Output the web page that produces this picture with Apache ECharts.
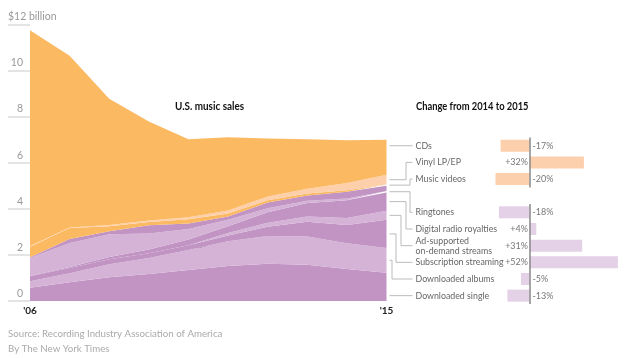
<!DOCTYPE html>
<html>
<head>
<meta charset="utf-8">
<script src="https://cdn.jsdelivr.net/npm/echarts@6/dist/echarts.min.js"></script>
<style>
html,body{margin:0;padding:0;background:#fff;}
#main{width:628px;height:358px;}
</style>
</head>
<body>
<div id="main"></div>
<script>
// ---------------- DATA ----------------
const years = ['2006','2007','2008','2009','2010','2011','2012','2013','2014','2015'];
const xTickLabels = ["'06","","","","","","","","","'15"];

// $ billions, stacked bottom to top
const downloadedSingle      = [0.58,0.81,1.03,1.17,1.34,1.52,1.62,1.57,1.39,1.23];
const downloadedAlbums      = [0.28,0.39,0.56,0.69,0.87,1.07,1.20,1.23,1.11,1.07];
const subscriptionStreaming = [0.21,0.23,0.22,0.21,0.21,0.25,0.40,0.64,0.80,1.22];
const adSupported           = [0,0,0,0,0,0.11,0.17,0.22,0.30,0.39];
const digitalRadio          = [0.03,0.04,0.10,0.16,0.25,0.29,0.46,0.59,0.77,0.80];
const ringtones             = [0.77,1.05,0.98,0.70,0.45,0.28,0.17,0.10,0.07,0.06];
const otherDigital          = [0.03,0.17,0.13,0.35,0.24,0.15,0.25,0.23,0.30,0.23];
const musicVideos           = [0.45,0.48,0.22,0.15,0.18,0.13,0.10,0.08,0.06,0.05];
const vinylLP               = [0.04,0.02,0.06,0.06,0.09,0.12,0.16,0.21,0.32,0.42];
const cds                   = [9.35,7.45,5.47,4.30,3.38,3.18,2.52,2.15,1.85,1.52];

// Change from 2014 to 2015 (%)
const physicalCats = ['CDs','Vinyl LP/EP','Music videos'];
const physicalChange = [-17, 32, -20];
const digitalCats = ['Ringtones','Digital radio royalties','Ad-supported\non-demand streams','Subscription streaming','Downloaded albums','Downloaded single'];
const digitalChange = [-18, 4, 31, 52, -5, -13];

// ---------------- STYLE ----------------
const FONT = "Lato, 'Liberation Sans', Arial, sans-serif";
const DARK = '#c194c4', LIGHT = '#d4b3d7', ORANGE = '#fbb962', PEACH = '#fdcfaa';
const BAR_PHYS = '#fdd0ad', BAR_DIG = '#e4d0e7';

const layers = [
  {name:'Downloaded single', data:downloadedSingle, color:DARK},
  {name:'Downloaded albums', data:downloadedAlbums, color:LIGHT},
  {name:'Subscription streaming', data:subscriptionStreaming, color:DARK},
  {name:'Ad-supported\non-demand streams', data:adSupported, color:LIGHT},
  {name:'Digital radio royalties', data:digitalRadio, color:DARK},
  {name:'Ringtones', data:ringtones, color:LIGHT},
  {name:'Other digital', data:otherDigital, color:DARK},
  {name:'Music videos', data:musicVideos, color:ORANGE},
  {name:'Vinyl LP/EP', data:vinylLP, color:PEACH},
  {name:'CDs', data:cds, color:ORANGE}
];

const chart = echarts.init(document.getElementById('main'), null, {renderer:'canvas'});

function barData(vals){
  return vals.map(v => ({
    value: v,
    label: {position: v >= 0 ? 'left' : 'right', distance: v >= 0 ? 1.5 : 3}
  }));
}

function txt(text, x, y, font, fill, sx){
  return {type:'text', x:x, y:y, scaleX:sx || 1, silent:true,
    style:{text:text, font:font, fill:fill, align:'left', verticalAlign:'middle'}};
}
const textGraphics = [
  txt('U.S. music sales', 175, 106, 'bold 11px '+FONT, '#111', 0.9),
  txt('Physical', 192, 181, 'bold 11px '+FONT, '#111', 0.9),
  txt('Digital', 196, 250, 'bold 11px '+FONT, '#111', 0.9),
  txt('Change from 2014 to 2015', 416, 106, 'bold 11px '+FONT, '#111', 0.85),
  txt('Source: Recording Industry Association of America', 8, 334, '10px '+FONT, '#aaa', 0.97),
  txt('By The New York Times', 8, 349, '10px '+FONT, '#aaa', 0.97)
];

const option = {
  animation:false,
  textStyle:{fontFamily:FONT},
  grid:[
    {left:30, right:241.5, top:24.3, bottom:57},
    {left:461.5, right:5, top:137.4, height:50},
    {left:461.5, right:5, top:204, height:100}
  ],
  xAxis:[
    {type:'category', gridIndex:0, data:years, boundaryGap:false,
     axisLine:{show:false}, axisTick:{show:false}, splitLine:{show:false},
     axisLabel:{interval:0, margin:5, fontSize:10, fontWeight:'bold', color:'#222',
       formatter:(v,i)=>xTickLabels[i]}},
    {type:'value', gridIndex:1, min:-40, max:55, show:false},
    {type:'value', gridIndex:2, min:-40, max:55, show:false}
  ],
  yAxis:[
    {type:'value', gridIndex:0, min:0, max:12, interval:2,
     axisLine:{show:false}, splitLine:{show:false},
     axisTick:{show:true, length:22, lineStyle:{color:'#dcdcdc', width:1.5}},
     axisLabel:{margin:7, fontSize:10.5, color:'#999', verticalAlign:'bottom', padding:[0,0,2,0],
       showMaxLabel:true, formatter:v => v===12 ? '' : String(v)}},
    {type:'value', gridIndex:0, min:0, max:12, interval:2, position:'left',
     axisLine:{show:false}, splitLine:{show:false}, axisTick:{show:false},
     axisLabel:{margin:22, align:'left', fontSize:10.5, color:'#999', verticalAlign:'bottom', padding:[0,0,2,0],
       showMaxLabel:true, formatter:v => v===12 ? '$12 billion' : ''}},
    {type:'category', gridIndex:1, data:physicalCats, inverse:true,
     axisLine:{show:false}, axisTick:{show:false},
     axisLabel:{margin:46, align:'left', fontSize:8.8, color:'#666', lineHeight:10}},
    {type:'category', gridIndex:2, data:digitalCats, inverse:true,
     axisLine:{show:false}, axisTick:{show:false},
     axisLabel:{margin:46, align:'left', fontSize:8.8, color:'#666', lineHeight:10}}
  ],
  series: layers.map(l => ({
    name:l.name, type:'line', stack:'total', xAxisIndex:0, yAxisIndex:0,
    data:l.data, showSymbol:false, symbol:'none',
    lineStyle:{width:0}, areaStyle:{color:l.color, opacity:1}, itemStyle:{color:l.color}
  })).concat([
    {type:'bar', xAxisIndex:1, yAxisIndex:2, data:barData(physicalChange), barWidth:12,
     itemStyle:{color:BAR_PHYS},
     label:{show:true, fontSize:9, color:'#777', formatter:p=>(p.value>0?'+':'-')+Math.abs(p.value)+'%'},
     markLine:{silent:true, symbol:'none', label:{show:false}, lineStyle:{color:'#888', width:1.5, type:'solid'}, data:[{xAxis:0}]}},
    {type:'bar', xAxisIndex:2, yAxisIndex:3, data:barData(digitalChange), barWidth:12,
     itemStyle:{color:BAR_DIG},
     label:{show:true, fontSize:9, color:'#777', formatter:p=>(p.value>0?'+':'-')+Math.abs(p.value)+'%'},
     markLine:{silent:true, symbol:'none', label:{show:false}, lineStyle:{color:'#888', width:1.5, type:'solid'}, data:[{xAxis:0}]}}
  ]),
  graphic: textGraphics
};
chart.setOption(option);

// ---------------- leader lines ----------------
const last = years.length - 1;
const bounds = {};
let cum = 0;
layers.forEach(l => { const b = cum; cum += l.data[last]; bounds[l.name] = [b, cum]; });

// label rows: [category name, bar grid axis index, row index, elbow x]
const leaders = [
  ['CDs', 2, 0, 406], ['Vinyl LP/EP', 2, 1, 406], ['Music videos', 2, 2, 410],
  ['Ringtones', 3, 0, 410], ['Digital radio royalties', 3, 1, 406],
  ['Ad-supported\non-demand streams', 3, 2, 401], ['Subscription streaming', 3, 3, 396],
  ['Downloaded albums', 3, 4, 392], ['Downloaded single', 3, 5, 392]
];
const lineGraphics = leaders.map(([name, yAx, row, elbow]) => {
  const b = bounds[name];
  const pTop = chart.convertToPixel({xAxisIndex:0, yAxisIndex:0}, [last, b[1]]);
  const pBot = chart.convertToPixel({xAxisIndex:0, yAxisIndex:0}, [last, b[0]]);
  const xAx = yAx === 2 ? 1 : 2;
  const yl = chart.convertToPixel({xAxisIndex:xAx, yAxisIndex:yAx}, [0, row])[1];
  const x0 = pTop[0] + 3, x1 = 412.5;
  let pts;
  if (yl >= pTop[1] + 1 && yl <= pBot[1] - 1) {
    pts = [[x0, yl], [x1, yl]];
  } else {
    const yc = (pTop[1] + pBot[1]) / 2;
    pts = [[x0, yc], [elbow, yc], [elbow, yl], [x1, yl]];
  }
  return {type:'polyline', shape:{points:pts}, style:{stroke:'#bbb', lineWidth:1, fill:null}, silent:true};
});
chart.setOption({graphic: textGraphics.concat(lineGraphics)});
</script>
</body>
</html>
